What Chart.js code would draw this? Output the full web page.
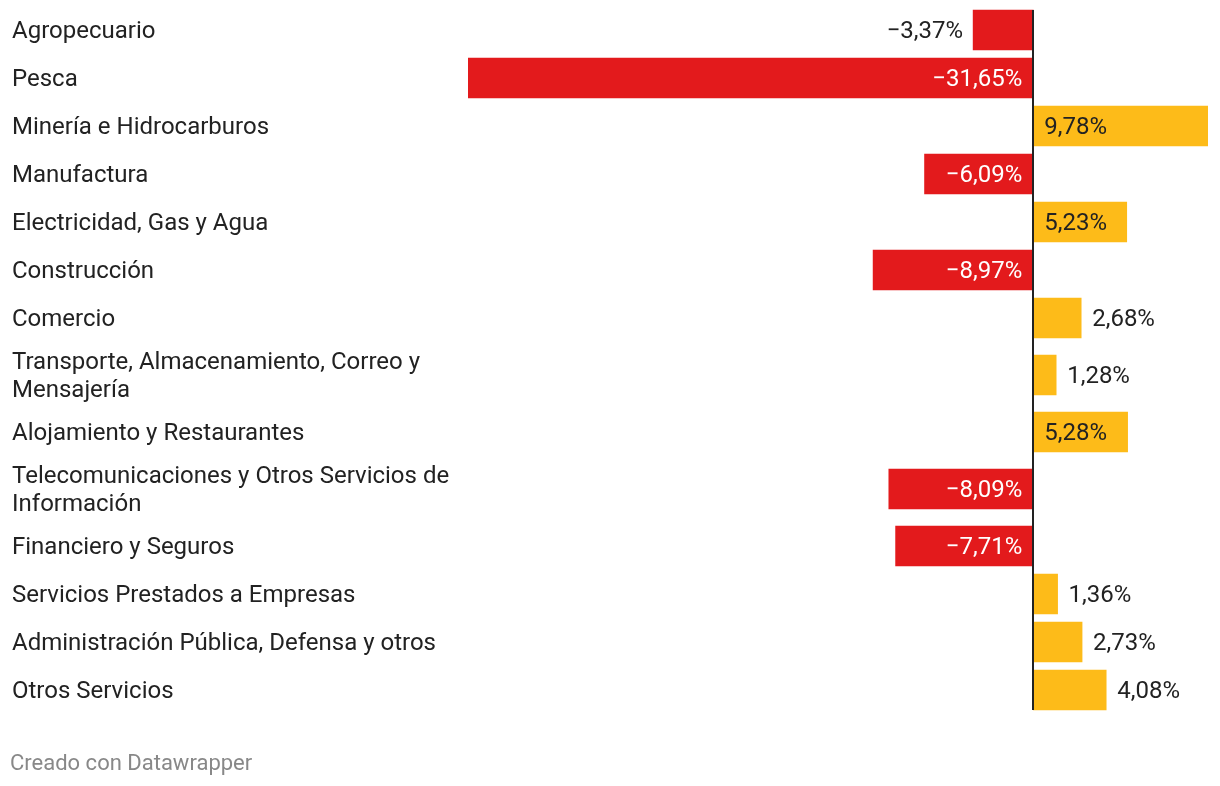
<!DOCTYPE html>
<html>
<head>
<meta charset="UTF-8" />
<title>PBI por sectores</title>
<script src="https://cdn.jsdelivr.net/npm/chart.js"></script>
<style>
html, body { margin:0; padding:0; background:#fff; }
#wrap { width:1220px; height:786px; position:relative; }
#foot { position:absolute; left:10px; top:749px; font:22px Roboto, "Noto Sans", sans-serif; color:#888; line-height:28px; }
</style>
</head>
<body>
<div id="wrap"><canvas id="chart"></canvas><div id="foot"></div></div>

<script>
const categories = [
  'Agropecuario',
  'Pesca',
  'Minería e Hidrocarburos',
  'Manufactura',
  'Electricidad, Gas y Agua',
  'Construcción',
  'Comercio',
  ['Transporte, Almacenamiento, Correo y', 'Mensajería'],
  'Alojamiento y Restaurantes',
  ['Telecomunicaciones y Otros Servicios de', 'Información'],
  'Financiero y Seguros',
  'Servicios Prestados a Empresas',
  'Administración Pública, Defensa y otros',
  'Otros Servicios'
];
const values = [-3.37, -31.65, 9.78, -6.09, 5.23, -8.97, 2.68, 1.28, 5.28, -8.09, -7.71, 1.36, 2.73, 4.08];
const footer = 'Creado con Datawrapper';

const RED = '#e31a1c';
const YELLOW = '#fdbb19';
const INK = '#222222';
const FONT = 'Roboto, "Noto Sans", sans-serif';

document.getElementById('foot').textContent = footer;

// row layout: two-line labels get a taller row, like datawrapper does
const ROW = 48, ROW2 = 66;
let acc = 0;
const centers = categories.map(c => {
  const h = Array.isArray(c) ? ROW2 : ROW;
  const mid = acc + h / 2;
  acc += h;
  return mid;
});
const total = acc;

const fmt = v => (v < 0 ? '\u2212' : '') + Math.abs(v).toFixed(2).replace('.', ',') + '%';

const zeroLine = {
  id: 'zeroLine',
  afterDatasetsDraw(chart) {
    const { ctx, chartArea, scales } = chart;
    const x0 = Math.round(scales.x.getPixelForValue(0));
    ctx.save();
    ctx.fillStyle = INK;
    ctx.fillRect(x0 - 1, chartArea.top + 4, 2, chartArea.bottom - chartArea.top - 8);
    ctx.restore();
  }
};

const valueLabels = {
  id: 'valueLabels',
  afterDatasetsDraw(chart) {
    const { ctx } = chart;
    const meta = chart.getDatasetMeta(0);
    ctx.save();
    ctx.font = '24px ' + FONT;
    ctx.textBaseline = 'middle';
    meta.data.forEach((bar, i) => {
      const v = values[i];
      const txt = fmt(v);
      const tw = ctx.measureText(txt).width;
      const w = Math.abs(bar.x - bar.base);
      const inside = w >= tw + 22;
      if (v < 0) {
        ctx.textAlign = 'right';
        ctx.fillStyle = inside ? '#ffffff' : INK;
        ctx.fillText(txt, inside ? bar.base - 11 : bar.x - 10, bar.y + 2);
      } else {
        ctx.textAlign = 'left';
        ctx.fillStyle = INK;
        ctx.fillText(txt, inside ? bar.base + 11 : bar.x + 11, bar.y + 2);
      }
    });
    ctx.restore();
  }
};

new Chart(document.getElementById('chart'), {
  type: 'bar',
  data: {
    datasets: [{
      data: values.map((v, i) => ({ x: v, y: centers[i] })),
      backgroundColor: values.map(v => v < 0 ? RED : YELLOW),
      barThickness: 40,
      borderWidth: 0
    }]
  },
  options: {
    indexAxis: 'y',
    responsive: true,
    maintainAspectRatio: false,
    animation: false,
    layout: { padding: { top: 6, left: 12, right: 12, bottom: 72 } },
    scales: {
      x: {
        type: 'linear',
        display: false,
        min: Math.min(...values),
        max: Math.max(...values)
      },
      y: {
        type: 'linear',
        reverse: true,
        offset: false,
        min: 0,
        max: total,
        grid: { display: false },
        border: { display: false },
        // labels sit a touch below the bar middle, as in the original
        afterBuildTicks: s => { s.ticks = centers.map(c => ({ value: c + 2 })); },
        afterFit: s => { s.width = 456; s.paddingTop = 0; s.paddingBottom = 0; },
        ticks: {
          autoSkip: false,
          crossAlign: 'far',
          padding: 0,
          color: INK,
          font: { family: FONT, size: 24, lineHeight: 1.1667 },
          callback: (val, i) => categories[i]
        }
      }
    },
    plugins: {
      legend: { display: false },
      tooltip: { enabled: false }
    }
  },
  plugins: [zeroLine, valueLabels]
});
</script>
</body>
</html>
